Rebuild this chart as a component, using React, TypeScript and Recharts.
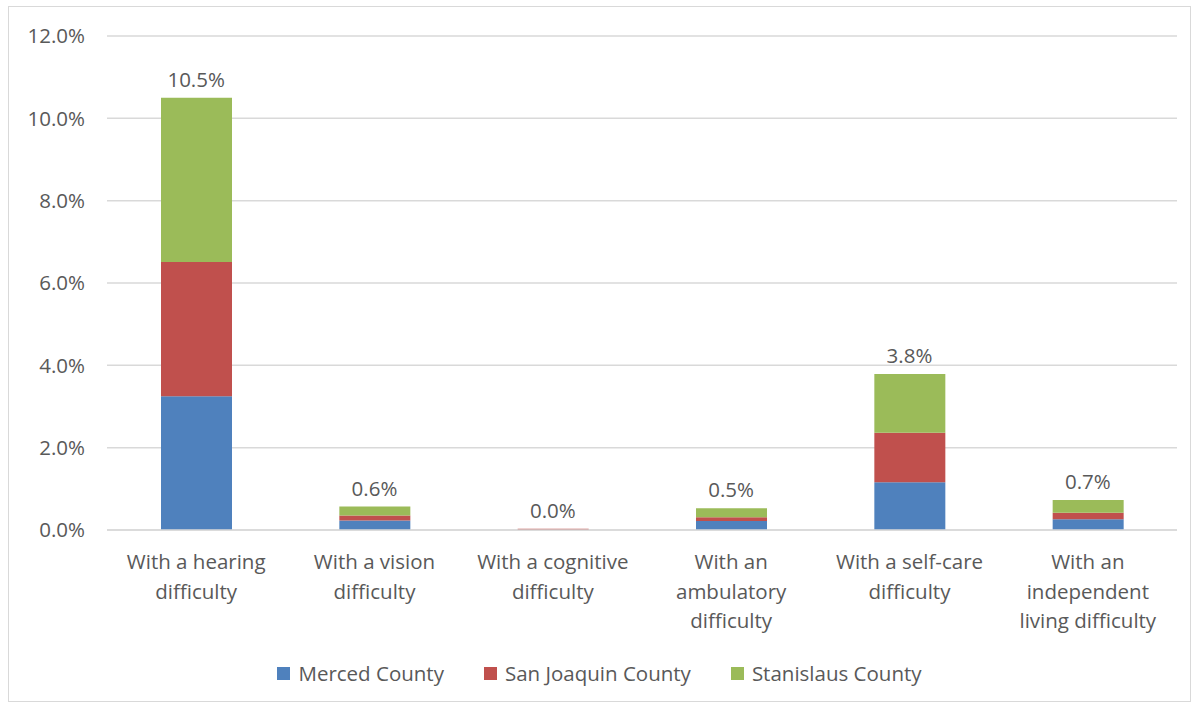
import React from "react";
import { ComposedChart, Bar, Line, XAxis, YAxis, CartesianGrid, Legend, LabelList } from "recharts";

const categories = [
  "With a hearing difficulty",
  "With a vision difficulty",
  "With a cognitive difficulty",
  "With an ambulatory difficulty",
  "With a self-care difficulty",
  "With an independent living difficulty",
];
const categoryLines = [
  ["With a hearing", "difficulty"],
  ["With a vision", "difficulty"],
  ["With a cognitive", "difficulty"],
  ["With an", "ambulatory", "difficulty"],
  ["With a self-care", "difficulty"],
  ["With an", "independent", "living difficulty"],
];
const merced = [3.25, 0.23, 0.0, 0.22, 1.16, 0.26];
const sanJoaquin = [3.26, 0.12, 0.03, 0.09, 1.2, 0.16];
const stanislaus = [3.99, 0.22, 0.0, 0.22, 1.43, 0.31];
const totalLabels = ["10.5%", "0.6%", "0.0%", "0.5%", "3.8%", "0.7%"];
const yTicks = [0, 2, 4, 6, 8, 10, 12];

const seriesNames = ["Merced County", "San Joaquin County", "Stanislaus County"];
const colors = ["#4F81BD", "#C0504D", "#9BBB59"];

const data = categories.map((c, i) => ({
  name: c,
  merced: merced[i],
  sanJoaquin: sanJoaquin[i],
  stanislaus: stanislaus[i],
  total: merced[i] + sanJoaquin[i] + stanislaus[i],
  totalLabel: totalLabels[i],
}));

const FONT = "'Open Sans', sans-serif";
const TEXT = "#595959";
const FS = 20.5;

const XTick = (props: any) => {
  const { x, y, payload } = props;
  const idx = categories.indexOf(payload.value);
  const lines = categoryLines[idx] || [payload.value];
  return (
    <text x={x} y={y} textAnchor="middle" fill={TEXT} fontSize={FS} fontFamily={FONT}>
      {lines.map((l, i) => (
        <tspan key={i} x={x} y={y + 31 + i * 29.5}>
          {l}
        </tspan>
      ))}
    </text>
  );
};

const TotalLabel = (props: any) => {
  const { x, y, value } = props;
  return (
    <text x={x} y={y - 11} textAnchor="middle" fill={TEXT} fontSize={FS} fontFamily={FONT}>
      {value}
    </text>
  );
};

const LegendContent = () => (
  <div
    style={{
      display: "flex",
      justifyContent: "center",
      alignItems: "center",
      height: 30,
      fontFamily: FONT,
      fontSize: FS,
      color: TEXT,
    }}
  >
    {seriesNames.map((n, i) => (
      <div key={n} style={{ display: "flex", alignItems: "center", marginRight: i < 2 ? 40 : 0 }}>
        <div style={{ width: 13, height: 13, background: colors[i], marginRight: 8 }} />
        <span>{n}</span>
      </div>
    ))}
  </div>
);

export default function App() {
  return (
    <div
      style={{
        position: "absolute",
        left: 8,
        top: 6,
        width: 1181,
        height: 694,
        border: "1px solid #d9d9d9",
        background: "#fff",
      }}
    >
      <ComposedChart
        width={1181}
        height={694}
        data={data}
        margin={{ top: 29, right: 13, left: 0, bottom: 10 }}
        barSize={71}
      >
        <CartesianGrid vertical={false} stroke="#d9d9d9" strokeWidth={1.5} />
        <XAxis
          dataKey="name"
          interval={0}
          height={131}
          tickLine={false}
          axisLine={{ stroke: "#d9d9d9", strokeWidth: 1.5 }}
          tick={<XTick />}
        />
        <YAxis
          width={98}
          domain={[0, 12]}
          ticks={yTicks}
          tickFormatter={(v: number) => `${v.toFixed(1)}%`}
          axisLine={false}
          tickLine={false}
          tickSize={0}
          tickMargin={22}
          tick={{ fill: TEXT, fontSize: FS, fontFamily: FONT }}
        />
        <Legend
          verticalAlign="bottom"
          content={<LegendContent />}
          wrapperStyle={{ top: 651, left: 0, width: 1181, height: 30 }}
        />
        <Bar dataKey="merced" name={seriesNames[0]} stackId="a" fill={colors[0]} isAnimationActive={false} />
        <Bar dataKey="sanJoaquin" name={seriesNames[1]} stackId="a" fill={colors[1]} isAnimationActive={false} />
        <Bar dataKey="stanislaus" name={seriesNames[2]} stackId="a" fill={colors[2]} isAnimationActive={false} />
        <Line
          dataKey="total"
          stroke="none"
          dot={false}
          activeDot={false}
          legendType="none"
          isAnimationActive={false}
        >
          <LabelList dataKey="totalLabel" content={<TotalLabel />} />
        </Line>
      </ComposedChart>
    </div>
  );
}
